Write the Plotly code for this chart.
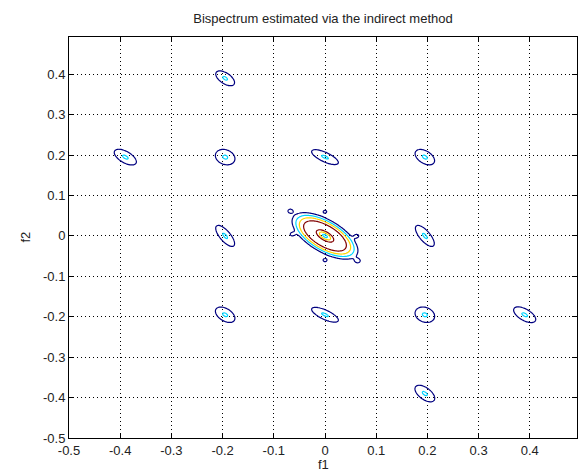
import numpy as np
import plotly.graph_objects as go

# ---------------- data ----------------
title_text = "Bispectrum estimated via the indirect method"
x_label = "f1"
y_label = "f2"

tick_vals = [-0.5, -0.4, -0.3, -0.2, -0.1, 0.0, 0.1, 0.2, 0.3, 0.4]
tick_text = ["-0.5", "-0.4", "-0.3", "-0.2", "-0.1", "0", "0.1", "0.2", "0.3", "0.4"]
axis_min = -0.5
axis_max = 63 / 128

# contour levels (4 levels, jet colours)
levels = [1, 2, 3, 4]
level_colors = ["#000080", "#00D4FF", "#FFD400", "#800000"]

# satellite peaks: centre, semi-axes of the outer (level 1) contour, tilt (deg)
sat_f1 = [-0.195, -0.39, -0.195, 0.0, 0.195, -0.195, 0.195, -0.195, 0.0, 0.195, 0.39, 0.195]
sat_f2 = [0.39, 0.195, 0.195, 0.195, 0.195, 0.0, 0.0, -0.195, -0.195, -0.195, -0.195, -0.39]
sat_major = [0.023, 0.026, 0.021, 0.030, 0.023, 0.030, 0.030, 0.023, 0.030, 0.021, 0.026, 0.025]
sat_minor = [0.012, 0.013, 0.017, 0.011, 0.014, 0.011, 0.011, 0.014, 0.011, 0.017, 0.013, 0.013]
sat_angle = [-45, -40, -45, -32, -45, -58, -58, -45, -32, -45, -40, -48]
sat_peak = [2.1] * 12

# central peak (flat top with a dip in the middle)
centre_f1 = 0.0
centre_f2 = 0.0
centre_major = 0.078
centre_minor = 0.037
centre_angle = -40
centre_peak = 5.0
centre_dip = 3.3
centre_dip_width = 0.17

# small side lobes around the central peak
lobe_f1 = [-0.068, 0.0, -0.064, 0.062, 0.0, 0.064]
lobe_f2 = [0.062, 0.06, 0.004, 0.0, -0.06, -0.062]
lobe_peak = [1.25, 1.2, 1.25, 1.25, 1.25, 1.25]
lobe_width = 0.0055

# ---------------- build the surface ----------------
N = 512
f = np.arange(-N // 2, N // 2) / N
F1, F2 = np.meshgrid(f, f)


def ell_r2(cx, cy, a, b, ang):
    t = np.deg2rad(ang)
    dx = F1 - cx
    dy = F2 - cy
    u = dx * np.cos(t) + dy * np.sin(t)
    v = -dx * np.sin(t) + dy * np.cos(t)
    return (u / a) ** 2 + (v / b) ** 2


Z = np.zeros_like(F1)
for cx, cy, a, b, ang, A in zip(sat_f1, sat_f2, sat_major, sat_minor, sat_angle, sat_peak):
    Z += A * np.exp(-np.log(A) * ell_r2(cx, cy, a, b, ang))

r2 = ell_r2(centre_f1, centre_f2, centre_major, centre_minor, centre_angle)
r = np.sqrt(r2)
p = np.log(np.log(centre_peak) / np.log(centre_peak / 4.0)) / np.log(1 / 0.65)
Z += centre_peak * np.exp(-np.log(centre_peak) * r ** p)
Z -= centre_dip * np.exp(-r2 / (2 * centre_dip_width ** 2))

for cx, cy, A in zip(lobe_f1, lobe_f2, lobe_peak):
    Z += A * np.exp(-((F1 - cx) ** 2 + (F2 - cy) ** 2) / (2 * lobe_width ** 2))

colorscale = [[(lv - levels[0]) / (levels[-1] - levels[0]), c] for lv, c in zip(levels, level_colors)]

# ---------------- figure ----------------
W, H = 582, 476
ML, MR, MT, MB = 69, 5, 37, 38
plot_h = H - MT - MB

fig = go.Figure()
fig.add_trace(go.Contour(
    x=f, y=f, z=Z,
    contours=dict(start=levels[0], end=levels[-1], size=1, coloring="lines"),
    colorscale=colorscale, zmin=levels[0], zmax=levels[-1], zauto=False,
    line=dict(width=1.2), showscale=False, hoverinfo="skip",
))

axis_common = dict(
    range=[axis_min, axis_max],
    tickmode="array", tickvals=tick_vals, ticktext=tick_text,
    ticks="inside", ticklen=5, tickwidth=1, tickcolor="black",
    showline=True, linecolor="black", linewidth=1, mirror="allticks",
    showgrid=True, gridcolor="black", gridwidth=1, griddash="1px,3px",
    zeroline=False, tickfont=dict(size=13, color="#222222"),
)

fig.update_layout(
    width=W, height=H,
    margin=dict(l=ML, r=MR, t=MT, b=MB),
    paper_bgcolor="white", plot_bgcolor="white",
    font=dict(family="Liberation Sans, Arial, sans-serif", size=13, color="black"),
    title=dict(text=title_text, x=0.5, xanchor="center", xref="paper",
               y=1 - 18 / H, yref="container", yanchor="middle",
               font=dict(size=13, color="#222222")),
    xaxis=dict(**axis_common),
    yaxis=dict(**axis_common),
    showlegend=False,
    annotations=[
        dict(text=x_label, xref="paper", yref="paper", x=0.5, y=-(465 - (H - MB)) / plot_h,
             xanchor="center", yanchor="middle", showarrow=False,
             font=dict(size=13, color="#222222")),
        dict(text=y_label, xref="paper", yref="paper", x=-(ML - 25) / (W - ML - MR), y=0.5,
             xanchor="center", yanchor="middle", showarrow=False, textangle=-90,
             font=dict(size=13, color="#222222")),
    ],
)

# remove the browser's default page margin so the figure sits at the window origin
fig.write_html("out.html", config={"displayModeBar": False},
               post_script="document.body.style.margin='0px';")
